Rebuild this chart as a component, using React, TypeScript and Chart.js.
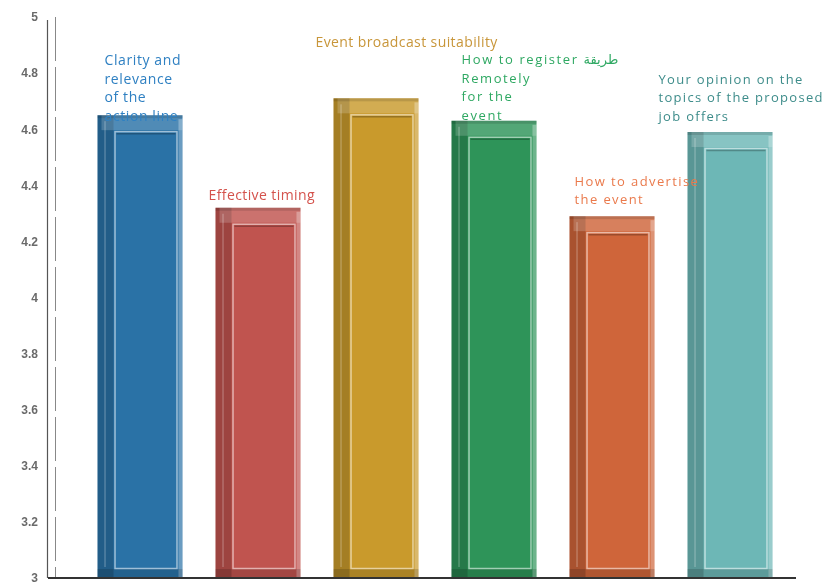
import React, { useEffect, useRef } from "react";
import { Chart, registerables } from "chart.js";

Chart.register(...registerables);

const categories = [
  "Clarity and relevance of the action line",
  "Effective timing",
  "Event broadcast suitability",
  "How to register طريقة Remotely for the event",
  "How to advertise the event",
  "Your opinion on the topics of the proposed job offers",
];
const values = [4.65, 4.32, 4.71, 4.63, 4.29, 4.59];
const labelLines = [
  ["Clarity and", "relevance", "of the", "action line"],
  ["Effective timing"],
  ["Event broadcast suitability"],
  ["How to register طريقة", "Remotely", "for the", "event"],
  ["How to advertise", "the event"],
  ["Your opinion on the", "topics of the proposed", "job offers"],
];
const yTickValues = [3, 3.2, 3.4, 3.6, 3.8, 4, 4.2, 4.4, 4.6, 4.8, 5];
const yTickLabels = ["3", "3.2", "3.4", "3.6", "3.8", "4", "4.2", "4.4", "4.6", "4.8", "5"];

// styles
const barColors = ["#2a72a6", "#c0544f", "#c99a2c", "#2e9459", "#cf653a", "#6db7b6"];
const labelColors = ["#2f80c2", "#d4524c", "#c8963a", "#2ea862", "#ea7a4c", "#3d8c8a"];
const labelStyle = [
  { dx: 7, dy: -54, size: 14, spacing: 0.6 },
  { dx: -7, dy: -12, size: 14, spacing: 0.4 },
  { dx: -18, dy: -55, size: 14, spacing: 0.4 },
  { dx: 10, dy: -60, size: 13, spacing: 1.6 },
  { dx: 5, dy: -34, size: 13, spacing: 1.4 },
  { dx: -29, dy: -52, size: 13, spacing: 1.3 },
];

const decorPlugin = {
  id: "decor",
  beforeDatasetsDraw(chart: any) {
    const ctx = chart.ctx;
    const y = chart.scales.y;
    const area = chart.chartArea;
    ctx.save();
    ctx.strokeStyle = "#555";
    ctx.lineWidth = 1.2;
    ctx.beginPath();
    ctx.moveTo(47.5, area.top + 3);
    ctx.lineTo(47.5, area.bottom);
    ctx.stroke();
    ctx.strokeStyle = "#888";
    ctx.lineWidth = 1;
    ctx.setLineDash([44, 6]);
    ctx.beginPath();
    ctx.moveTo(55.5, area.top);
    ctx.lineTo(55.5, area.bottom);
    ctx.stroke();
    ctx.setLineDash([]);
    ctx.fillStyle = "#6a6a6a";
    ctx.font = "bold 12px 'Liberation Sans', Arial, sans-serif";
    ctx.textAlign = "right";
    ctx.textBaseline = "middle";
    yTickValues.forEach((v, i) => {
      ctx.fillText(yTickLabels[i], 38, y.getPixelForValue(v) + 1);
    });
    ctx.restore();
  },
  afterDatasetsDraw(chart: any) {
    const ctx = chart.ctx;
    const area = chart.chartArea;
    const meta = chart.getDatasetMeta(0);
    ctx.save();
    meta.data.forEach((bar: any, i: number) => {
      const w = bar.width;
      const l = bar.x - w / 2;
      const r = bar.x + w / 2;
      const t = bar.y;
      const b = Math.min(bar.base, area.bottom) - 1;
      ctx.fillStyle = "rgba(0,0,0,0.18)";
      ctx.fillRect(l, t, 16, b - t);
      ctx.fillStyle = "rgba(255,255,255,0.18)";
      ctx.fillRect(l + 4, t, w - 4, 15);
      ctx.fillStyle = "rgba(0,0,0,0.12)";
      ctx.fillRect(l, t, w, 3);
      ctx.fillStyle = "rgba(255,255,255,0.3)";
      ctx.fillRect(r - 4, t + 4, 4, b - t - 4);
      ctx.fillStyle = "rgba(0,0,0,0.15)";
      ctx.fillRect(l, b - 8, w, 8);
      ctx.fillStyle = barColors[i];
      ctx.fillRect(l + 18, t + 17, w - 24, b - t - 26);
      ctx.strokeStyle = "rgba(255,255,255,0.55)";
      ctx.lineWidth = 1.5;
      ctx.strokeRect(l + 17.5, t + 16.5, w - 23, b - t - 25);
      ctx.strokeStyle = "rgba(0,0,0,0.25)";
      ctx.lineWidth = 1.5;
      ctx.beginPath();
      ctx.moveTo(l + 19, t + 18.5);
      ctx.lineTo(r - 7, t + 18.5);
      ctx.stroke();
      ctx.strokeStyle = "rgba(255,255,255,0.35)";
      ctx.lineWidth = 1;
      ctx.beginPath();
      ctx.moveTo(l + 7.5, t + 6);
      ctx.lineTo(l + 7.5, b - 10);
      ctx.stroke();
    });
    ctx.strokeStyle = "#333";
    ctx.lineWidth = 2;
    ctx.beginPath();
    ctx.moveTo(48, area.bottom);
    ctx.lineTo(796, area.bottom);
    ctx.stroke();
    meta.data.forEach((bar: any, i: number) => {
      const st = labelStyle[i];
      const l = bar.x - bar.width / 2;
      ctx.fillStyle = labelColors[i];
      ctx.font = `${st.size}px 'Open Sans', 'DejaVu Sans', sans-serif`;
      (ctx as any).letterSpacing = `${st.spacing}px`;
      ctx.textAlign = "left";
      ctx.textBaseline = "middle";
      labelLines[i].forEach((line, k) => {
        ctx.fillText(line, l + st.dx, bar.y + st.dy + k * 18.5);
      });
    });
    (ctx as any).letterSpacing = "0px";
    ctx.restore();
  },
};

export default function App() {
  const ref = useRef<HTMLCanvasElement | null>(null);
  useEffect(() => {
    document.body.style.margin = "0";
    if (!ref.current) return;
    const chart = new Chart(ref.current, {
      type: "bar",
      data: {
        labels: categories,
        datasets: [
          {
            data: values,
            base: 3,
            backgroundColor: barColors,
            borderWidth: 0,
            barPercentage: 0.72,
            categoryPercentage: 1,
          },
        ],
      },
      options: {
        responsive: false,
        animation: false,
        layout: { padding: { left: 81, right: 42, top: 17, bottom: 4 } },
        plugins: { legend: { display: false }, tooltip: { enabled: false } },
        scales: {
          x: { display: false },
          y: { display: false, min: 3, max: 5 },
        },
      },
      plugins: [decorPlugin],
    });
    return () => chart.destroy();
  }, []);
  return (
    <div style={{ width: 831, height: 582, background: "#fff" }}>
      <canvas ref={ref} width={831} height={582} style={{ display: "block" }} />
    </div>
  );
}
